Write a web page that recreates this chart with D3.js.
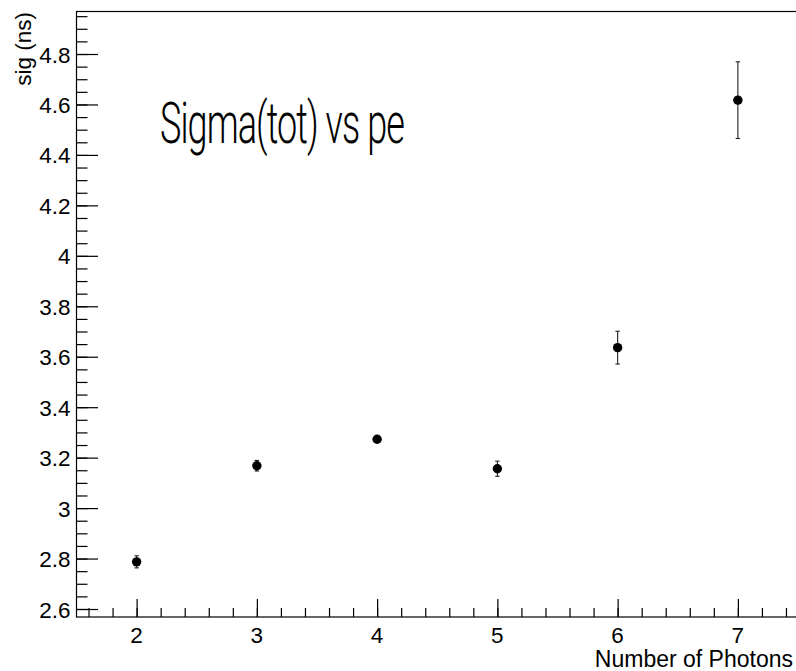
<!DOCTYPE html>
<html>
<head>
<meta charset="utf-8">
<script src="https://cdn.jsdelivr.net/npm/d3@7/dist/d3.min.js"></script>
<style>
  html, body { margin: 0; padding: 0; background: #fff; }
  svg { display: block; }
</style>
</head>
<body>
<svg id="chart" width="796" height="671"></svg>
<script>
// ---- data ----
const photons = [2, 3, 4, 5, 6, 7];
const sigma   = [2.787, 3.168, 3.273, 3.156, 3.636, 4.617];
const sigmaErr = [0.024, 0.021, 0.006, 0.03, 0.065, 0.152];
const yTickValues = [2.6, 2.8, 3.0, 3.2, 3.4, 3.6, 3.8, 4.0, 4.2, 4.4, 4.6, 4.8];
const yTickLabels = ["2.6", "2.8", "3", "3.2", "3.4", "3.6", "3.8", "4", "4.2", "4.4", "4.6", "4.8"];
const xTickValues = [2, 3, 4, 5, 6, 7];
const xTickLabels = ["2", "3", "4", "5", "6", "7"];
const titleText = "Sigma(tot) vs pe";
const xTitle = "Number of Photons";
const yTitle = "sig (ns)";

// ---- layout ----
const padL = 76.5, padR = 798, padT = 11.5, padB = 617;
const svg = d3.select("#chart");
const x = d3.scaleLinear().domain([1.5, 7.5]).range([padL, padR]);
const y = d3.scaleLinear().domain([2.5683, 4.9685]).range([padB, padT]);

const labelFont = "'Liberation Sans', Arial, Helvetica, sans-serif";

// frame
svg.append("rect")
  .attr("x", padL).attr("y", padT)
  .attr("width", padR - padL).attr("height", padB - padT)
  .attr("fill", "none").attr("stroke", "#000").attr("stroke-width", 1.2);

// y axis ticks (inward)
const yMinor = d3.range(2.6, 4.97, 0.05).filter(v => v >= y.domain()[0] && v <= y.domain()[1]);
const yAxisMinor = d3.axisRight(y).tickValues(yMinor).tickSize(11).tickFormat("");
const yAxisMajor = d3.axisRight(y).tickValues(yTickValues).tickSize(21.5).tickFormat("");
[yAxisMinor, yAxisMajor].forEach(ax => {
  const g = svg.append("g").attr("transform", `translate(${padL},0)`).call(ax);
  g.select(".domain").remove();
  g.selectAll("line").attr("stroke", "#000").attr("stroke-width", 1.2);
});
// y labels
svg.append("g").selectAll("text").data(yTickValues).join("text")
  .attr("x", 70.5).attr("y", d => y(d) + 8.5)
  .attr("text-anchor", "end")
  .attr("font-family", labelFont).attr("font-size", 22.5)
  .attr("fill", "#000")
  .text((d, i) => yTickLabels[i]);

// x axis ticks (inward)
const xMinor = d3.range(1.6, 7.45, 0.2);
const xAxisMinor = d3.axisTop(x).tickValues(xMinor).tickSize(9).tickFormat("");
const xAxisMajor = d3.axisTop(x).tickValues(xTickValues).tickSize(18).tickFormat("");
[xAxisMinor, xAxisMajor].forEach(ax => {
  const g = svg.append("g").attr("transform", `translate(0,${padB})`).call(ax);
  g.select(".domain").remove();
  g.selectAll("line").attr("stroke", "#000").attr("stroke-width", 1.2);
});
svg.append("g").selectAll("text").data(xTickValues).join("text")
  .attr("x", d => x(d)).attr("y", 642.5)
  .attr("text-anchor", "middle")
  .attr("font-family", labelFont).attr("font-size", 22.5)
  .attr("fill", "#000")
  .text((d, i) => xTickLabels[i]);

// axis titles
svg.append("text")
  .attr("x", 793).attr("y", 667)
  .attr("text-anchor", "end")
  .attr("font-family", labelFont).attr("font-size", 23)
  .attr("fill", "#000")
  .text(xTitle);
svg.append("text")
  .attr("transform", "translate(31,12) rotate(-90)")
  .attr("text-anchor", "end")
  .attr("font-family", labelFont).attr("font-size", 22.5)
  .attr("fill", "#000")
  .text(yTitle);

// title
svg.append("text")
  .attr("x", 160).attr("y", 143)
  .attr("font-family", "Roboto, 'Liberation Sans', sans-serif")
  .attr("font-weight", 300)
  .attr("font-size", 58)
  .attr("letter-spacing", -1.5)
  .attr("textLength", 244).attr("lengthAdjust", "spacingAndGlyphs")
  .attr("fill", "#000")
  .text(titleText);

// error bars
const pts = photons.map((p, i) => ({ x: p, y: sigma[i], e: sigmaErr[i] }));
const eb = svg.append("g").attr("stroke", "#222").attr("stroke-width", 1.1);
eb.selectAll("line.v").data(pts).join("line").attr("class", "v")
  .attr("x1", d => x(d.x)).attr("x2", d => x(d.x))
  .attr("y1", d => y(d.y - d.e)).attr("y2", d => y(d.y + d.e));
eb.selectAll("line.cu").data(pts).join("line").attr("class", "cu")
  .attr("x1", d => x(d.x) - 2.2).attr("x2", d => x(d.x) + 2.2)
  .attr("y1", d => y(d.y + d.e)).attr("y2", d => y(d.y + d.e));
eb.selectAll("line.cl").data(pts).join("line").attr("class", "cl")
  .attr("x1", d => x(d.x) - 2.2).attr("x2", d => x(d.x) + 2.2)
  .attr("y1", d => y(d.y - d.e)).attr("y2", d => y(d.y - d.e));

// markers
svg.append("g").selectAll("circle").data(pts).join("circle")
  .attr("cx", d => x(d.x)).attr("cy", d => y(d.y))
  .attr("r", 4.7).attr("fill", "#000");
</script>
</body>
</html>
